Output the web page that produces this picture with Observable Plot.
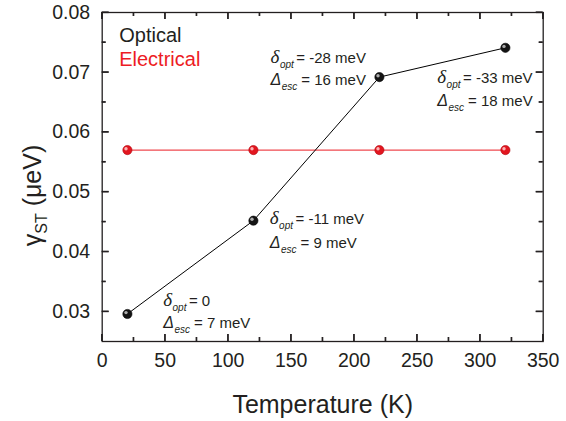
<!DOCTYPE html>
<html><head><meta charset="utf-8">
<script src="https://cdn.jsdelivr.net/npm/d3@7"></script>
<script src="https://cdn.jsdelivr.net/npm/@observablehq/plot@0.6"></script>
<style>body{margin:0;background:#fff;}</style>
</head><body><div id="chart"></div>
<script>
// ---- data ----
const temperature = [20, 120, 220, 320];
const optical = [0.0296, 0.0452, 0.0692, 0.0741];
const electrical = [0.057, 0.057, 0.057, 0.057];
const seriesNames = ["Optical", "Electrical"];
const xTicks = [0, 50, 100, 150, 200, 250, 300, 350];
const xMinor = [25, 75, 125, 175, 225, 275, 325];
const yTicks = [0.03, 0.04, 0.05, 0.06, 0.07, 0.08];
const yMinor = [0.035, 0.045, 0.055, 0.065, 0.075];
const xTitle = "Temperature (K)";
const yTitle = "γ|ST| (μeV)";
// annotations (data coordinates of each text line)
const annX = [48.4, 133, 133.6, 265.9];
const annDeltaY = [0.0317, 0.0454, 0.0724, 0.0690];
const annEscY = [0.0281, 0.0414, 0.0687, 0.0651];
const annDelta = ["0", "-11 meV", "-28 meV", "-33 meV"];
const annEsc = ["7 meV", "9 meV", "16 meV", "18 meV"];

const INK = "#231f20";
const RED = "#ed1c24";

const W = 566, H = 421, ML = 101.7, MR = 23.3, MT = 12, MB = 80;
const FW = W - ML - MR, FH = H - MT - MB;
const MAJ = 7, MIN = 4, HW = 0.6;

const optData = temperature.map((t, i) => ({t, v: optical[i]}));
const eleData = temperature.map((t, i) => ({t, v: electrical[i]}));
const deltaRows = annX.map((x, i) => ({x, y: annDeltaY[i], s: `δ|opt|= ${annDelta[i]}`}));
const escRows = annX.map((x, i) => ({x, y: annEscY[i], s: `Δ|esc|= ${annEsc[i]}`}));

// inward ticks drawn as thin filled rects (x ticks) and rects (y ticks)
const xTickRect = (data, len, side) => Plot.rect(data, {
  x1: d => d, x2: d => d, insetLeft: -HW, insetRight: -HW,
  insetTop: side === "bottom" ? FH - len : 0, insetBottom: side === "top" ? FH - len : 0,
  fill: INK
});
const yTickRect = (data, len, side) => Plot.rect(data, {
  y1: d => d, y2: d => d, insetTop: -HW, insetBottom: -HW,
  insetRight: side === "left" ? FW - len : 0, insetLeft: side === "right" ? FW - len : 0,
  fill: INK
});

const svg = Plot.plot({
  width: W,
  height: H,
  marginLeft: ML,
  marginRight: MR,
  marginTop: MT,
  marginBottom: MB,
  x: {domain: [0, 350]},
  y: {domain: [0.025, 0.08]},
  style: {fontFamily: "'Liberation Sans', Arial, sans-serif", background: "white", color: INK},
  marks: [
    // tick labels
    Plot.axisX({ticks: xTicks, tickSize: 0, tickPadding: 12, fontSize: 19.5, label: null, tickFormat: d => String(d)}),
    Plot.axisY({ticks: yTicks, tickSize: 0, tickPadding: 12, fontSize: 19.5, label: null, tickFormat: d3.format(".2f")}),
    // inward ticks on all four sides
    xTickRect(xTicks, MAJ, "bottom"),
    xTickRect(xMinor, MIN, "bottom"),
    xTickRect(xTicks, MAJ, "top"),
    xTickRect(xMinor, MIN, "top"),
    yTickRect(yTicks, MAJ, "left"),
    yTickRect(yMinor, MIN, "left"),
    yTickRect(yTicks, MAJ, "right"),
    yTickRect(yMinor, MIN, "right"),
    Plot.ruleX(xTicks, {x: d => d, stroke: INK, strokeWidth: 1.2, insetTop: FH - MAJ}),
    Plot.ruleX(xMinor, {x: d => d, stroke: INK, strokeWidth: 1.2, insetTop: FH - MIN}),
    Plot.ruleX(xTicks, {x: d => d, stroke: INK, strokeWidth: 1.2, insetBottom: FH - MAJ}),
    Plot.ruleX(xMinor, {x: d => d, stroke: INK, strokeWidth: 1.2, insetBottom: FH - MIN}),
    Plot.ruleY(yTicks, {y: d => d, stroke: INK, strokeWidth: 1.2, insetRight: FW - MAJ}),
    Plot.ruleY(yMinor, {y: d => d, stroke: INK, strokeWidth: 1.2, insetRight: FW - MIN}),
    Plot.ruleY(yTicks, {y: d => d, stroke: INK, strokeWidth: 1.2, insetLeft: FW - MAJ}),
    Plot.ruleY(yMinor, {y: d => d, stroke: INK, strokeWidth: 1.2, insetLeft: FW - MIN}),
    Plot.frame({stroke: INK, strokeWidth: 1.3, fill: "none"}),
    // series
    Plot.line(eleData, {x: "t", y: "v", stroke: "#f04a50", strokeWidth: 1.4}),
    Plot.line(optData, {x: "t", y: "v", stroke: "#000", strokeWidth: 1}),
    Plot.dot(eleData, {x: "t", y: "v", r: 4.6, fill: "#e2161f", stroke: "#b0000a", strokeWidth: 0.6}),
    Plot.dot(eleData, {x: "t", y: "v", r: 1.7, dx: -1.4, dy: -1.4, fill: "#ffc4c4", fillOpacity: 0.9}),
    Plot.dot(optData, {x: "t", y: "v", r: 4.6, fill: "#141414", stroke: "#000", strokeWidth: 0.6}),
    Plot.dot(optData, {x: "t", y: "v", r: 1.7, dx: -1.4, dy: -1.4, fill: "#bdbdbd", fillOpacity: 0.9}),
    // annotations
    Plot.text(deltaRows, {x: "x", y: "y", text: "s", textAnchor: "start", lineAnchor: "middle", fontSize: 15, fill: INK}),
    Plot.text(escRows, {x: "x", y: "y", text: "s", textAnchor: "start", lineAnchor: "middle", fontSize: 15, fill: INK}),
    // legend
    Plot.text([seriesNames[0]], {frameAnchor: "top-left", text: d => d, dx: 17, dy: 23.5, textAnchor: "start", lineAnchor: "middle", fontSize: 20, fill: INK}),
    Plot.text([seriesNames[1]], {frameAnchor: "top-left", text: d => d, dx: 17, dy: 47, textAnchor: "start", lineAnchor: "middle", fontSize: 20, fill: RED}),
    // axis titles
    Plot.text([xTitle], {frameAnchor: "bottom", text: d => d, dy: 71, textAnchor: "middle", lineAnchor: "bottom", fontSize: 25, fill: INK}),
    Plot.text([yTitle], {frameAnchor: "left", text: d => d, dx: -60.7, dy: 18.5, rotate: -90, textAnchor: "middle", lineAnchor: "bottom", fontSize: 25, fill: INK})
  ]
});

// rich text: symbol + subscript + rest
d3.select(svg).selectAll("text").each(function () {
  const s = this.textContent;
  if (!s.includes("|")) return;
  const [sym, sub, val] = s.split("|");
  const t = d3.select(this);
  t.text(null);
  if (sym === "γ") {
    t.append("tspan").text(sym);
    t.append("tspan").text(sub).attr("font-size", 16).attr("dy", 6);
    t.append("tspan").text(val).attr("dy", -6);
    return;
  }
  const isDelta = sym === "δ";
  t.append("tspan").text(sym).attr("font-style", "italic")
    .attr("font-family", isDelta ? "'Liberation Serif', serif" : "'Liberation Sans', sans-serif")
    .attr("font-size", isDelta ? 19 : 16);
  t.append("tspan").text(sub).attr("font-style", "italic").attr("font-size", 10).attr("dy", 5).attr("dx", 0.5);
  t.append("tspan").text(val).attr("dy", -5).attr("dx", isDelta ? 2.5 : 4);
});

document.getElementById("chart").appendChild(svg);
</script>
</body></html>
